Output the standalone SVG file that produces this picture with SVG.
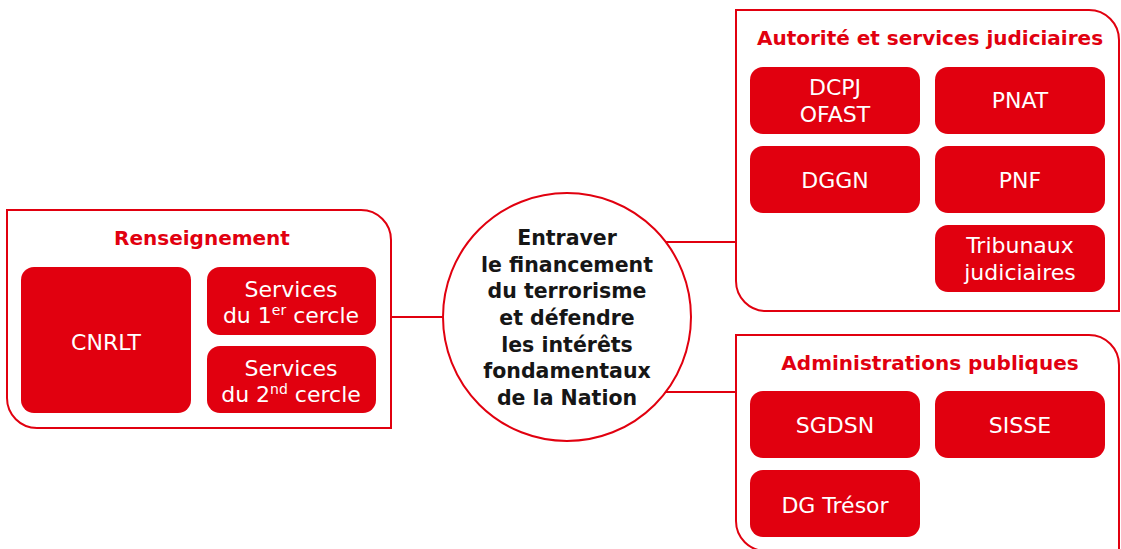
<svg xmlns="http://www.w3.org/2000/svg" width="1121" height="549" viewBox="0 0 1121 549">
<style>
.panel{fill:#fff;stroke:#e1000f;stroke-width:2}
.box{fill:#e1000f}
.conn{stroke:#e1000f;stroke-width:2;fill:none}
.title{font-family:"DejaVu Sans",sans-serif;font-weight:bold;font-size:20px;fill:#e1000f;text-anchor:middle}
.lbl{font-family:"DejaVu Sans",sans-serif;font-size:22px;fill:#fff;text-anchor:middle}
.sup{font-size:14px}
.ctr{font-family:"DejaVu Sans",sans-serif;font-weight:bold;font-size:20.5px;fill:#161616;text-anchor:middle}
</style>
<rect width="1121" height="549" fill="#fff"/>
<g id="connectors">
<line class="conn" x1="391" y1="317" x2="444" y2="317"/>
<line class="conn" x1="665" y1="242" x2="736" y2="242"/>
<line class="conn" x1="665" y1="392" x2="736" y2="392"/>
</g>
<g id="renseignement">
<path class="panel" d="M7,210 H361 A30,30 0 0 1 391,240 V428 H37 A30,30 0 0 1 7,398 Z"/>
<text class="title" x="202" y="245">Renseignement</text>
<g id="cnrlt"><rect class="box" x="21" y="267" width="170" height="146" rx="13"/><text class="lbl" x="106" y="350">CNRLT</text></g>
<g id="services1"><rect class="box" x="207" y="267" width="169" height="68" rx="13"/><text class="lbl" x="291" y="297">Services</text><text class="lbl" x="291" y="323">du 1<tspan class="sup" dy="-8">er</tspan><tspan dy="8"> cercle</tspan></text></g>
<g id="services2"><rect class="box" x="207" y="346" width="169" height="67" rx="13"/><text class="lbl" x="291" y="376">Services</text><text class="lbl" x="291" y="402">du 2<tspan class="sup" dy="-8">nd</tspan><tspan dy="8"> cercle</tspan></text></g>
</g>
<g id="objectif">
<circle cx="567" cy="317" r="124" fill="#fff" stroke="#e1000f" stroke-width="2"/>
<text class="ctr" x="567" y="245">Entraver</text>
<text class="ctr" x="567" y="272">le financement</text>
<text class="ctr" x="567" y="298">du terrorisme</text>
<text class="ctr" x="567" y="325">et défendre</text>
<text class="ctr" x="567" y="352">les intérêts</text>
<text class="ctr" x="567" y="378">fondamentaux</text>
<text class="ctr" x="567" y="405">de la Nation</text>
</g>
<g id="judiciaire">
<path class="panel" d="M736,10 H1089 A30,30 0 0 1 1119,40 V311 H766 A30,30 0 0 1 736,281 Z"/>
<text class="title" x="930" y="45">Autorité et services judiciaires</text>
<g id="dcpj"><rect class="box" x="750" y="67" width="170" height="67" rx="13"/><text class="lbl" x="835" y="95">DCPJ</text><text class="lbl" x="835" y="122">OFAST</text></g>
<g id="pnat"><rect class="box" x="935" y="67" width="170" height="67" rx="13"/><text class="lbl" x="1020" y="108">PNAT</text></g>
<g id="dggn"><rect class="box" x="750" y="146" width="170" height="67" rx="13"/><text class="lbl" x="835" y="188">DGGN</text></g>
<g id="pnf"><rect class="box" x="935" y="146" width="170" height="67" rx="13"/><text class="lbl" x="1020" y="188">PNF</text></g>
<g id="tribunaux"><rect class="box" x="935" y="225" width="170" height="67" rx="13"/><text class="lbl" x="1020" y="253">Tribunaux</text><text class="lbl" x="1020" y="280">judiciaires</text></g>
</g>
<g id="administrations">
<path class="panel" d="M736,335 H1089 A30,30 0 0 1 1119,365 V551 H766 A30,30 0 0 1 736,521 Z"/>
<text class="title" x="930" y="370">Administrations publiques</text>
<g id="sgdsn"><rect class="box" x="750" y="391" width="170" height="67" rx="13"/><text class="lbl" x="835" y="433">SGDSN</text></g>
<g id="sisse"><rect class="box" x="935" y="391" width="170" height="67" rx="13"/><text class="lbl" x="1020" y="433">SISSE</text></g>
<g id="dgtresor"><rect class="box" x="750" y="470" width="170" height="67" rx="13"/><text class="lbl" x="835" y="513">DG Trésor</text></g>
</g>
</svg>
